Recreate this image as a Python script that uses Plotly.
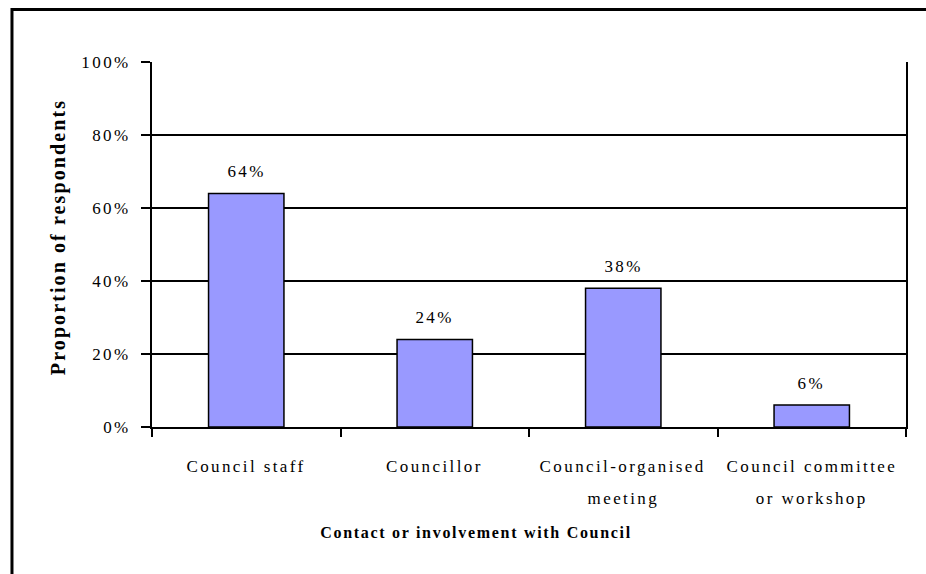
import plotly.graph_objects as go

# Survey result: share of respondents by type of contact with Council
categories = ["Council staff", "Councillor", "Council-organised meeting", "Council committee or workshop"]
label_line1 = ["Council staff", "Councillor", "Council-organised", "Council committee"]
label_line2 = ["", "", "meeting", "or workshop"]
values = [64, 24, 38, 6]
y_ticks = [0, 20, 40, 60, 80, 100]
y_tick_text = ["0%", "20%", "40%", "60%", "80%", "100%"]

SERIF = "Liberation Serif, Times New Roman, serif"
BAR_FILL = "#9999FF"
LABEL_SIZE = 17

fig = go.Figure()
fig.add_trace(go.Bar(
    x=categories,
    y=values,
    marker=dict(color=BAR_FILL, line=dict(color="black", width=1.5)),
    hoverinfo="skip",
))

annotations = []
# value labels above each bar
for c, v in zip(categories, values):
    annotations.append(dict(
        x=c, y=v, xref="x", yref="y", text=f"{v}%", showarrow=False,
        yanchor="middle", yshift=22, font=dict(family=SERIF, size=LABEL_SIZE, color="black"),
    ))
# two-line category labels under the axis
for c, l1, l2 in zip(categories, label_line1, label_line2):
    annotations.append(dict(
        x=c, y=-0.107, xref="x", yref="paper", text=l1, showarrow=False,
        yanchor="middle", font=dict(family=SERIF, size=LABEL_SIZE, color="black"),
    ))
    if l2:
        annotations.append(dict(
            x=c, y=-0.195, xref="x", yref="paper", text=l2, showarrow=False,
            yanchor="middle", font=dict(family=SERIF, size=LABEL_SIZE, color="black"),
        ))
# axis titles
annotations.append(dict(
    x=0.431, y=-0.318, xref="paper", yref="paper", showarrow=False,
    text="<b>Contact or involvement with Council</b>",
    font=dict(family=SERIF, size=16, color="black"),
))
annotations.append(dict(
    x=-0.142, y=0.522, xref="paper", yref="paper", showarrow=False, textangle=-90,
    text="<b>Proportion of respondents</b>",
    font=dict(family=SERIF, size=20, color="black"),
))

fig.update_layout(
    width=926, height=574,
    margin=dict(l=152, r=20, t=62, b=147),
    paper_bgcolor="white", plot_bgcolor="white",
    showlegend=False, bargap=0.6,
    font=dict(family=SERIF, size=LABEL_SIZE, color="black"),
    annotations=annotations,
    shapes=[dict(
        type="rect", xref="paper", yref="paper",
        x0=-0.1857, x1=1.2, y0=-0.6, y1=1.1438,
        line=dict(color="black", width=3), fillcolor="rgba(0,0,0,0)", layer="below",
    )],
    xaxis=dict(
        showline=True, linecolor="black", linewidth=2,
        ticks="outside", ticklen=8, tickwidth=1.5, tickcolor="black",
        tickson="boundaries", showticklabels=False, showgrid=False,
        fixedrange=True,
    ),
    yaxis=dict(
        range=[0, 100], tickvals=y_ticks, ticktext=y_tick_text,
        showline=True, linecolor="black", linewidth=2, mirror=True,
        ticks="outside", ticklen=9, tickwidth=1.5, tickcolor="black",
        showgrid=True, gridcolor="black", gridwidth=1.5,
        ticklabelstandoff=7, zeroline=False,
        tickfont=dict(family=SERIF, size=LABEL_SIZE, color="black"),
        fixedrange=True,
    ),
)

# widen the letter spacing of the chart's text
spacing_js = """
var gd = document.getElementById('{plot_id}');
gd.querySelectorAll('.annotation-text, .ytick text').forEach(function(t){
  var bold = /bold|700/.test(t.innerHTML);
  var size = parseFloat(t.style.fontSize) || 17;
  t.style.letterSpacing = bold ? (size >= 19 ? '2.1px' : '1.7px') : '2.4px';
});
"""

fig.write_html("out.html", post_script=spacing_js, config={"displayModeBar": False})
